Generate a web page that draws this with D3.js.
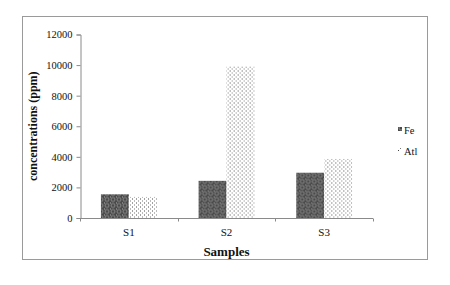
<!DOCTYPE html>
<html>
<head>
<meta charset="utf-8">
<script src="https://cdn.jsdelivr.net/npm/d3@7"></script>
<style>
  body { margin: 0; background: #fff; }
  text { font-family: "Liberation Serif", "Times New Roman", serif; }
</style>
</head>
<body>
<div id="chart"></div>
<script>
// Chart data
const samples = ["S1", "S2", "S3"];
const seriesNames = ["Fe", "Atl"];
const feValues = [1550, 2430, 2960];
const atlValues = [1380, 9900, 3860];
const yTicks = [0, 2000, 4000, 6000, 8000, 10000, 12000];

const W = 450, H = 285;
const margin = { top: 34.5, left: 80, right: 77, bottom: 67 };
const plotW = W - margin.left - margin.right;
const plotH = H - margin.top - margin.bottom;

const svg = d3.select("#chart").append("svg")
  .attr("width", W)
  .attr("height", H);

// Patterns for the bars
const defs = svg.append("defs");
const fePat = defs.append("pattern")
  .attr("id", "fePat")
  .attr("patternUnits", "userSpaceOnUse")
  .attr("width", 6).attr("height", 6);
fePat.append("rect").attr("width", 6).attr("height", 6).attr("fill", "#4a4a4a");
fePat.append("circle").attr("cx", 3).attr("cy", 3).attr("r", 2)
  .attr("fill", "none").attr("stroke", "#8f8f8f").attr("stroke-width", 0.9);
fePat.append("rect").attr("x", 0).attr("y", 0).attr("width", 1).attr("height", 1).attr("fill", "#b0b0b0");

const atlPat = defs.append("pattern")
  .attr("id", "atlPat")
  .attr("patternUnits", "userSpaceOnUse")
  .attr("width", 4).attr("height", 4);
atlPat.append("rect").attr("width", 4).attr("height", 4).attr("fill", "#fff");
atlPat.append("rect").attr("x", 0).attr("y", 0).attr("width", 1).attr("height", 1).attr("fill", "#444");
atlPat.append("rect").attr("x", 2).attr("y", 2).attr("width", 1).attr("height", 1).attr("fill", "#777");

// outer frame
svg.append("rect")
  .attr("x", 22.5).attr("y", 16.5)
  .attr("width", 405).attr("height", 243)
  .attr("fill", "none").attr("stroke", "#9a9a9a").attr("stroke-width", 1);

const g = svg.append("g").attr("transform", `translate(${margin.left},${margin.top})`);

const y = d3.scaleLinear().domain([0, 12000]).range([plotH, 0]);
const x0 = d3.scaleBand().domain(samples).range([0, plotW]).paddingInner(0).paddingOuter(0);
const x1 = d3.scaleBand().domain(seriesNames).range([0, x0.bandwidth()]).paddingInner(0).paddingOuter(0.75);

// y axis
const yAxis = g.append("g")
  .attr("transform", "translate(0.5,0)")
  .call(d3.axisLeft(y).tickValues(yTicks).tickSize(4).tickPadding(4).tickFormat(d3.format("d")));
yAxis.select(".domain").attr("stroke", "#8a8a8a");
yAxis.selectAll(".tick line").attr("stroke", "#8a8a8a");
yAxis.selectAll(".tick text").attr("font-size", 10.5).attr("fill", "#111");

// bars
const data = samples.map((s, i) => ({ sample: s, values: [feValues[i], atlValues[i]] }));
const groups = g.selectAll(".grp").data(data).enter().append("g")
  .attr("transform", d => `translate(${x0(d.sample)},0)`);
groups.selectAll("rect")
  .data(d => d.values.map((v, j) => ({ key: seriesNames[j], value: v })))
  .enter().append("rect")
  .attr("x", d => x1(d.key))
  .attr("y", d => y(d.value))
  .attr("width", x1.bandwidth())
  .attr("height", d => plotH - y(d.value))
  .attr("fill", d => d.key === "Fe" ? "url(#fePat)" : "url(#atlPat)");

// x axis
const xAxis = g.append("g")
  .attr("transform", `translate(0,${plotH + 0.5})`);
xAxis.append("line")
  .attr("x1", 0).attr("x2", plotW)
  .attr("stroke", "#8a8a8a");
xAxis.selectAll(".xt").data(d3.range(samples.length + 1)).enter().append("line")
  .attr("x1", d => Math.round(d * x0.bandwidth()) + 0.5)
  .attr("x2", d => Math.round(d * x0.bandwidth()) + 0.5)
  .attr("y1", 0).attr("y2", 3)
  .attr("stroke", "#8a8a8a");
xAxis.selectAll(".xl").data(samples).enter().append("text")
  .attr("x", d => x0(d) + x0.bandwidth() / 2)
  .attr("y", 17)
  .attr("text-anchor", "middle")
  .attr("font-size", 11)
  .attr("fill", "#111")
  .text(d => d);

// axis titles
svg.append("text")
  .attr("transform", `translate(37,${margin.top + plotH / 2}) rotate(-90)`)
  .attr("text-anchor", "middle")
  .attr("font-size", 12)
  .attr("font-weight", "bold")
  .attr("fill", "#111")
  .text("concentrations (ppm)");

svg.append("text")
  .attr("x", margin.left + plotW / 2)
  .attr("y", 256)
  .attr("text-anchor", "middle")
  .attr("font-size", 13)
  .attr("font-weight", "bold")
  .attr("fill", "#111")
  .text("Samples");

// legend
const legend = svg.append("g").attr("transform", "translate(398,125)");
seriesNames.forEach((name, i) => {
  const row = legend.append("g").attr("transform", `translate(0,${i * 21})`);
  row.append("rect")
    .attr("x", 0).attr("y", 2)
    .attr("width", 4).attr("height", 4)
    .attr("fill", name === "Fe" ? "url(#fePat)" : "url(#atlPat)");
  row.append("text")
    .attr("x", 6).attr("y", 8.5)
    .attr("font-size", 10.5)
    .attr("fill", "#111")
    .text(name);
});
</script>
</body>
</html>
